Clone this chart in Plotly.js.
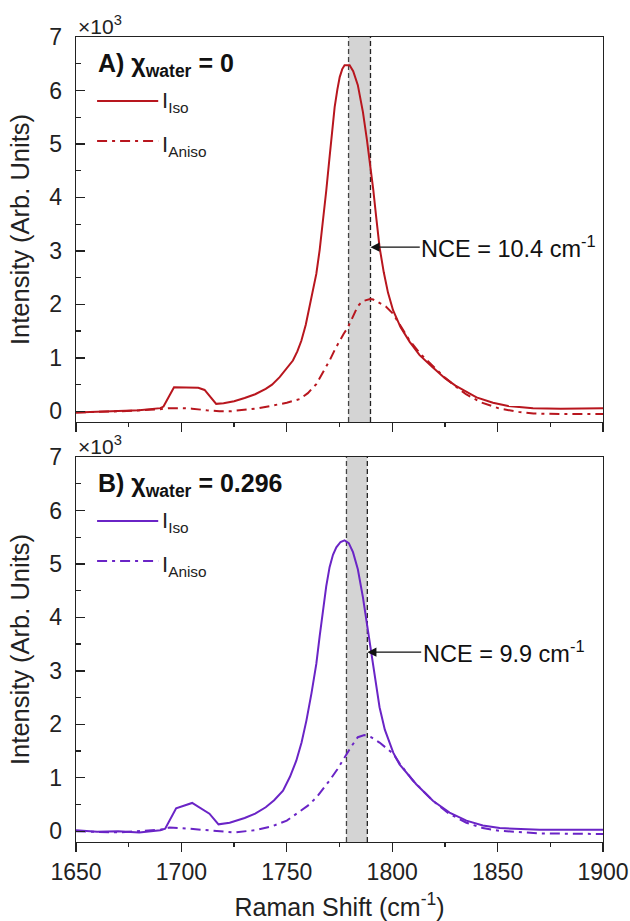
<!DOCTYPE html>
<html>
<head>
<meta charset="utf-8">
<script src="https://cdn.plot.ly/plotly-3.0.1.min.js"></script>
<style>html,body{margin:0;padding:0;background:#fff;}#chart{width:630px;height:921px;}</style>
</head>
<body>
<div id="chart"></div>
<script>
// Panel A (chi_water = 0), intensities in units of 10^3
const xIsoA = [1650,1660,1670,1680,1690,1691.5,1696.5,1703,1708,1711,1716.5,1720,1725,1730,1735,1740,1743,1746.6,1750,1752.9,1755,1756.9,1759,1760.8,1762.5,1764,1765.6,1767.1,1768.7,1770.3,1771.5,1772.7,1774,1775.1,1776.3,1777.4,1779.8,1781.5,1783.7,1786.1,1788,1789.6,1791,1792.5,1794,1796,1798,1800.4,1804,1808.3,1813,1819.3,1825,1830,1835.2,1840,1847.8,1855,1866.8,1880,1900];
const yIsoA = [-0.02,-0.01,0.0,0.02,0.06,0.09,0.45,0.45,0.44,0.40,0.14,0.15,0.19,0.25,0.32,0.42,0.50,0.64,0.80,0.95,1.12,1.32,1.62,1.95,2.25,2.57,3.02,3.51,4.12,4.76,5.25,5.69,6.02,6.25,6.40,6.47,6.47,6.36,6.10,5.60,5.08,4.62,4.15,3.60,3.07,2.60,2.22,1.89,1.57,1.30,1.05,0.82,0.62,0.48,0.36,0.26,0.16,0.10,0.06,0.05,0.06];
const xAnisoA = [1650,1670,1690,1694,1700,1705,1712,1718,1723,1730,1737,1743.4,1750,1756.1,1760,1764,1767,1770.3,1773,1775,1777,1779,1781.5,1783.7,1786,1789.5,1791,1794,1797,1800.3,1804,1808,1813,1819,1825,1830,1835,1842,1851,1860,1867,1880,1900];
const yAnisoA = [-0.02,0.0,0.04,0.06,0.06,0.05,0.02,0.0,0.0,0.03,0.06,0.11,0.16,0.23,0.34,0.51,0.72,0.95,1.17,1.32,1.45,1.57,1.80,1.97,2.06,2.10,2.09,2.03,1.96,1.83,1.60,1.34,1.09,0.85,0.63,0.47,0.32,0.17,0.05,-0.01,-0.04,-0.05,-0.05];
// Panel B (chi_water = 0.296)
const xIsoB = [1650,1660,1670,1680,1690,1692.3,1697.5,1705.1,1713.3,1717.6,1722.9,1730,1735,1740,1744,1748.2,1751.5,1754.5,1757,1759.3,1761.7,1764,1765.6,1767.1,1768.7,1770.3,1771.9,1773.5,1775.5,1777.4,1779.4,1781.4,1783.7,1786.1,1788,1789.5,1791,1792.5,1794,1796.5,1800.5,1803.5,1811.4,1819.3,1827.2,1835.2,1843,1851,1870,1900];
const yIsoB = [0.02,-0.01,0.0,-0.02,0.02,0.05,0.43,0.53,0.33,0.13,0.16,0.25,0.33,0.45,0.58,0.76,1.02,1.32,1.66,2.07,2.58,3.13,3.65,4.13,4.58,4.94,5.17,5.31,5.41,5.44,5.39,5.22,4.90,4.38,3.88,3.45,3.05,2.67,2.32,1.90,1.47,1.25,0.88,0.57,0.35,0.20,0.11,0.06,0.03,0.03];
const xAnisoB = [1650,1670,1690,1694.4,1700,1711.6,1718,1725,1735,1743.4,1750,1754.5,1760,1764,1767,1770.3,1774,1777.4,1780.5,1783.7,1786.8,1790,1794,1800.5,1803.5,1809.8,1819.3,1827,1835.2,1843,1851,1870,1900];
const yAnisoB = [0.0,-0.02,0.03,0.07,0.06,0.02,0.0,-0.02,0.02,0.10,0.20,0.32,0.48,0.63,0.78,0.95,1.16,1.38,1.58,1.76,1.80,1.76,1.66,1.45,1.27,0.95,0.57,0.33,0.16,0.06,0.01,-0.04,-0.05];
// Non-coincidence effect bands (cm^-1)
const bandA = [1779.3, 1789.7];
const bandB = [1778.3, 1788.2];
const nceA = 10.4, nceB = 9.9;
const xTickVals = [1650,1700,1750,1800,1850,1900];
const panelTitles = ['<b>A) χ<sub>water</sub> = 0</b>', '<b>B) χ<sub>water</sub> = 0.296</b>'];
const seriesNames = ['I<sub>Iso</sub>', 'I<sub>Aniso</sub>'];

const red = '#B8161E', purple = '#6A24C6';
const dashDot = '10px,5px,3px,5px';
const FONT = 'Liberation Sans, Arial, sans-serif';
const INK = '#222';

const traces = [
  {x: xIsoA, y: yIsoA, xaxis:'x', yaxis:'y', mode:'lines', name:seriesNames[0], line:{color:red, width:2}},
  {x: xAnisoA, y: yAnisoA, xaxis:'x', yaxis:'y', mode:'lines', name:seriesNames[1], line:{color:red, width:2, dash:dashDot}},
  {x: xIsoB, y: yIsoB, xaxis:'x2', yaxis:'y2', mode:'lines', name:seriesNames[0], line:{color:purple, width:2}},
  {x: xAnisoB, y: yAnisoB, xaxis:'x2', yaxis:'y2', mode:'lines', name:seriesNames[1], line:{color:purple, width:2, dash:dashDot}}
];

function xax(showLabels){
  const a = {range:[1650,1900], tickvals:xTickVals, ticks:'outside', ticklen:9, tickwidth:1.3, tickcolor:INK,
    minor:{dtick:25, ticks:'outside', ticklen:4, tickwidth:1.3, tickcolor:INK},
    showline:true, linecolor:INK, linewidth:1.3, mirror:true, showgrid:false, zeroline:false,
    showticklabels:showLabels, tickfont:{size:23, color:INK, family:FONT}};
  if (showLabels) a.title = {text:'Raman Shift (cm<sup>-1</sup>)', font:{size:25, color:INK, family:FONT}, standoff:14};
  return a;
}
function yax(domain, anchor){
  return {domain:domain, anchor:anchor, range:[-0.2,7], dtick:1, tick0:0, ticks:'inside', ticklen:9, tickwidth:1.3, tickcolor:INK,
    minor:{dtick:0.5, ticks:'inside', ticklen:5, tickwidth:1.3, tickcolor:INK},
    showline:true, linecolor:INK, linewidth:1.3, mirror:true, showgrid:false, zeroline:false,
    tickfont:{size:23, color:INK, family:FONT}, ticklabelstandoff:8,
    title:{text:'Intensity (Arb. Units)', font:{size:25.5, color:INK, family:FONT}, standoff:12}};
}

function bandShapes(b, xr, yr){
  return [
    {type:'rect', xref:xr, yref:yr+' domain', x0:b[0], x1:b[1], y0:0, y1:1, fillcolor:'#D4D4D4', line:{width:0}, layer:'below'},
    {type:'line', xref:xr, yref:yr+' domain', x0:b[0], x1:b[0], y0:0, y1:1, line:{color:'#444', width:1.3, dash:'5px,3px'}, layer:'below'},
    {type:'line', xref:xr, yref:yr+' domain', x0:b[1], x1:b[1], y0:0, y1:1, line:{color:INK, width:1.3, dash:'5px,3px'}, layer:'below'}
  ];
}
// legend drawn as a key inside each panel (line samples + labels)
function keyShapes(xr, yr, color){
  return [
    {type:'line', xref:xr+' domain', yref:yr+' domain', x0:0.040, x1:0.156, y0:0.834, y1:0.834, line:{color:color, width:2}},
    {type:'line', xref:xr+' domain', yref:yr+' domain', x0:0.040, x1:0.156, y0:0.7299, y1:0.7299, line:{color:color, width:2, dash:dashDot}}
  ];
}
function keyAnnotations(xr, yr, title){
  return [
    {xref:xr+' domain', yref:yr+' domain', x:0.038, y:0.927, xanchor:'left', yanchor:'middle', showarrow:false,
     text:title, font:{size:25, family:FONT, color:'#111'}},
    {xref:xr+' domain', yref:yr+' domain', x:0.160, y:0.830, xanchor:'left', yanchor:'middle', showarrow:false,
     text:seriesNames[0], font:{size:22, family:FONT, color:INK}},
    {xref:xr+' domain', yref:yr+' domain', x:0.160, y:0.718, xanchor:'left', yanchor:'middle', showarrow:false,
     text:seriesNames[1], font:{size:22, family:FONT, color:INK}},
    {xref:xr+' domain', yref:yr+' domain', x:0, y:1, xanchor:'left', yanchor:'bottom', yshift:-3, showarrow:false,
     text:'×10<sup>3</sup>', font:{size:21, family:FONT, color:INK}}
  ];
}

const layout = {
  width:630, height:921,
  margin:{l:76, r:27, t:37, b:79},
  paper_bgcolor:'#fff', plot_bgcolor:'#fff',
  font:{family:FONT, color:INK},
  showlegend:false,
  xaxis: Object.assign(xax(false), {anchor:'y'}),
  yaxis: yax([0.5217,1], 'x'),
  xaxis2: Object.assign(xax(true), {anchor:'y2'}),
  yaxis2: yax([0,0.4783], 'x2'),
  shapes: bandShapes(bandA,'x','y').concat(bandShapes(bandB,'x2','y2'), keyShapes('x','y',red), keyShapes('x2','y2',purple)),
  annotations: keyAnnotations('x','y',panelTitles[0]).concat(keyAnnotations('x2','y2',panelTitles[1]), [
    {xref:'x', yref:'y', x:bandA[1], y:3.07, axref:'x', ayref:'y', ax:1855.3, ay:3.07,
     text:'NCE = '+nceA+' cm<sup>-1</sup>', showarrow:true, arrowhead:2, arrowsize:1.3, arrowwidth:1.4, arrowcolor:'#111',
     font:{size:23.5, family:FONT, color:'#111'}},
    {xref:'x2', yref:'y2', x:bandB[1], y:3.35, axref:'x2', ayref:'y2', ax:1852.9, ay:3.35,
     text:'NCE = '+nceB+' cm<sup>-1</sup>', showarrow:true, arrowhead:2, arrowsize:1.3, arrowwidth:1.4, arrowcolor:'#111',
     font:{size:23.5, family:FONT, color:'#111'}}
  ])
};

Plotly.newPlot('chart', traces, layout, {displayModeBar:false, staticPlot:true});
</script>
</body>
</html>
